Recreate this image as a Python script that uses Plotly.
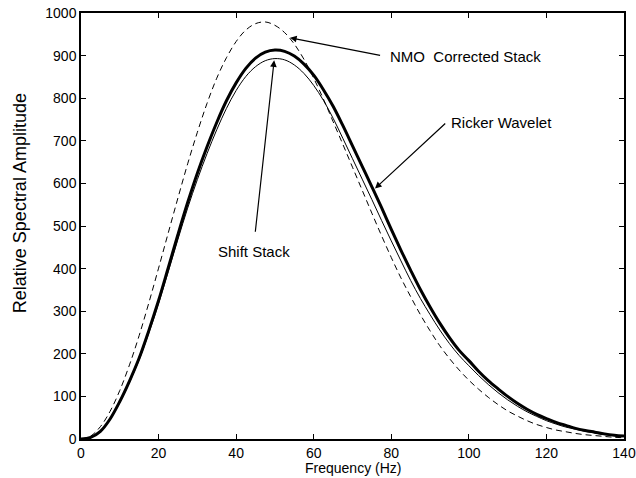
import plotly.graph_objects as go

# ---- data ----
freq = [0, 2.5, 5, 7.5, 10, 12.5, 15, 17.5, 20, 22.5, 25, 27.5, 30, 32.5, 35, 37.5,
        40, 42.5, 45, 47.5, 50, 52.5, 55, 57.5, 60, 62.5, 65, 67.5, 70, 72.5, 75, 77.5,
        80, 82.5, 85, 87.5, 90, 92.5, 95, 97.5, 100, 102.5, 105, 107.5, 110, 112.5, 115,
        117.5, 120, 122.5, 125, 127.5, 130, 132.5, 135, 137.5, 140]

ricker_wavelet = [0, 4, 18, 47, 88, 136, 190, 255, 325, 402, 480, 555, 624, 686, 743, 794,
                  836, 870, 894, 908, 913, 910, 899, 880, 854, 820, 781, 736, 688, 640, 592, 543,
                  492, 443, 396, 351, 310, 272, 238, 208, 184, 159, 137, 118, 100, 84, 70,
                  58, 48, 39, 32, 25, 20, 16, 12, 9, 7]

shift_stack = [0, 4, 18, 46, 86, 133, 186, 249, 318, 393, 469, 542, 609, 670, 726, 776,
               818, 851, 874, 888, 893, 890, 878, 858, 830, 795, 753, 706, 658, 610, 562, 513,
               465, 418, 372, 330, 292, 256, 224, 196, 172, 149, 128, 109, 92, 77, 64,
               53, 43, 35, 28, 23, 18, 14, 10, 8, 6]

nmo_stack = [0, 7, 29, 65, 114, 174, 243, 320, 401, 484, 566, 646, 720, 788, 847, 895,
             933, 960, 975, 979, 971, 954, 927, 891, 847, 798, 745, 692, 638, 584, 530, 477,
             426, 378, 334, 292, 254, 219, 189, 162, 138, 117, 98, 81, 66, 54, 43,
             34, 27, 21, 17, 13, 10, 8, 6, 4, 3]

x_ticks = [0, 20, 40, 60, 80, 100, 120, 140]
y_ticks = [0, 100, 200, 300, 400, 500, 600, 700, 800, 900, 1000]

FONT = "Liberation Sans, Arial, Helvetica, sans-serif"

fig = go.Figure()
fig.add_trace(go.Scatter(x=freq, y=nmo_stack, mode="lines", name="NMO Corrected Stack",
                         line=dict(color="black", width=1, dash="6px,4px", shape="spline")))
fig.add_trace(go.Scatter(x=freq, y=shift_stack, mode="lines", name="Shift Stack",
                         line=dict(color="black", width=1, shape="spline")))
fig.add_trace(go.Scatter(x=freq, y=ricker_wavelet, mode="lines", name="Ricker Wavelet",
                         line=dict(color="black", width=3, shape="spline")))

axis_common = dict(showgrid=False, zeroline=False, showline=True, linecolor="black",
                   linewidth=1.5, mirror="ticks", ticks="inside", ticklen=5,
                   tickcolor="black", tickwidth=1, automargin=False,
                   tickfont=dict(family=FONT, size=14, color="black"))

fig.update_xaxes(range=[0, 140], tickvals=x_ticks, **axis_common)
fig.update_yaxes(range=[0, 1000], tickvals=y_ticks, **axis_common)

ann_font = dict(family=FONT, size=15, color="black")
arrow_style = dict(showarrow=True, arrowhead=2, arrowsize=1.1, arrowwidth=1.2,
                   arrowcolor="black", axref="x", ayref="y", text="", standoff=0)

fig.update_layout(
    width=636, height=478,
    margin=dict(l=81, r=12, t=13, b=39),
    paper_bgcolor="white", plot_bgcolor="white",
    showlegend=False,
    annotations=[
        dict(x=53.9, y=942, ax=77.5, ay=900, **arrow_style),
        dict(x=79.1, y=899, text="NMO  Corrected Stack", showarrow=False,
             xanchor="left", yanchor="middle", font=ann_font),
        dict(x=75.8, y=588, ax=94.3, ay=744, **arrow_style),
        dict(x=94.9, y=744, text="Ricker Wavelet", showarrow=False,
             xanchor="left", yanchor="middle", font=ann_font),
        dict(x=49.8, y=889, ax=44.9, ay=483, **arrow_style),
        dict(x=44.6, y=440, text="Shift Stack", showarrow=False,
             xanchor="center", yanchor="middle", font=ann_font),
        dict(x=-0.112, y=0.554, xref="paper", yref="paper", text="Relative Spectral Amplitude",
             textangle=-90, showarrow=False, xanchor="center", yanchor="middle",
             font=dict(family=FONT, size=18, color="black")),
        dict(x=0.5, y=-0.069, xref="paper", yref="paper", text="Frequency (Hz)",
             showarrow=False, xanchor="center", yanchor="middle",
             font=dict(family=FONT, size=14, color="black")),
    ],
)

fig.write_html("out.html", config={"displayModeBar": False},
               post_script="document.body.style.margin='0';document.body.style.overflow='hidden';")
